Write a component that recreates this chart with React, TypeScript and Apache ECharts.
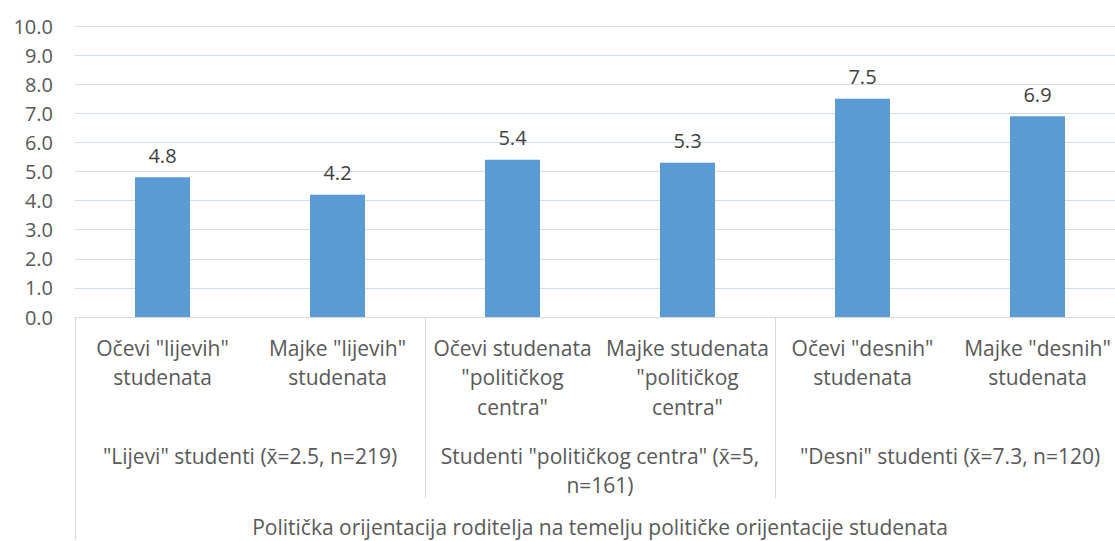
import React, { useEffect, useRef } from "react";
import * as echarts from "echarts";

const categories = [
  'Očevi "lijevih"\nstudenata',
  'Majke "lijevih"\nstudenata',
  'Očevi studenata\n"političkog\ncentra"',
  'Majke studenata\n"političkog\ncentra"',
  'Očevi "desnih"\nstudenata',
  'Majke "desnih"\nstudenata',
];
const values = [4.8, 4.2, 5.4, 5.3, 7.5, 6.9];
const groups = [
  '"Lijevi" studenti (x\u0304=2.5, n=219)',
  'Studenti "političkog centra" (x\u0304=5,\nn=161)',
  '"Desni" studenti (x\u0304=7.3, n=120)',
];
const axisTitle = ["Politička orijentacija roditelja na temelju političke orijentacije studenata"];

const FONT = "Open Sans";
const FS = 21;
const TXT = "#595959";
const LINE = "#d9d9d9";

export default function App() {
  const ref = useRef<HTMLDivElement>(null);
  useEffect(() => {
    document.body.style.margin = "0";
    const chart = echarts.init(ref.current!, null, { renderer: "svg" });
    chart.setOption({
      animation: false,
      textStyle: { fontFamily: FONT },
      grid: { left: 75, top: 26, width: 1050, height: 292, containLabel: false },
      yAxis: {
        type: "value",
        min: 0,
        max: 10,
        interval: 1,
        axisLine: { show: false },
        axisTick: { show: false },
        axisLabel: {
          formatter: (v: number) => v.toFixed(1),
          color: TXT,
          fontSize: 20,
          fontFamily: FONT,
          margin: 22,
        },
        splitLine: { lineStyle: { color: "#d3ddf0", width: 1 } },
      },
      xAxis: [
        {
          type: "category",
          data: categories,
          position: "bottom",
          axisLine: { lineStyle: { color: LINE, width: 1 } },
          axisTick: { show: false },
          axisLabel: {
            interval: 0,
            color: TXT,
            fontSize: FS,
            fontFamily: FONT,
            lineHeight: 29.5,
            margin: 16,
          },
        },
        {
          type: "category",
          data: groups,
          position: "bottom",
          axisLine: { show: false },
          axisTick: { show: true, interval: 0, length: 181, lineStyle: { color: LINE } },
          axisLabel: {
            interval: 0,
            color: TXT,
            fontSize: FS,
            fontFamily: FONT,
            lineHeight: 29,
            margin: 124,
          },
        },
        {
          type: "category",
          data: axisTitle,
          position: "bottom",
          axisLine: { show: false },
          axisTick: { show: true, interval: 0, length: 223, lineStyle: { color: LINE } },
          axisLabel: {
            interval: 0,
            color: TXT,
            fontSize: FS,
            fontFamily: FONT,
            lineHeight: 29,
            margin: 195,
          },
        },
      ],
      series: [
        {
          type: "bar",
          xAxisIndex: 0,
          data: values,
          barWidth: 55,
          itemStyle: { color: "#5b9bd5" },
          label: {
            show: true,
            position: "top",
            distance: 12,
            color: "#404040",
            fontSize: 20,
            fontFamily: FONT,
            formatter: (p: any) => Number(p.value).toFixed(1),
          },
        },
      ],
    });
    return () => chart.dispose();
  }, []);
  return (
    <div style={{ width: 1115, height: 541, overflow: "hidden", position: "relative" }}>
      <div ref={ref} style={{ width: 1140, height: 541 }} />
    </div>
  );
}
